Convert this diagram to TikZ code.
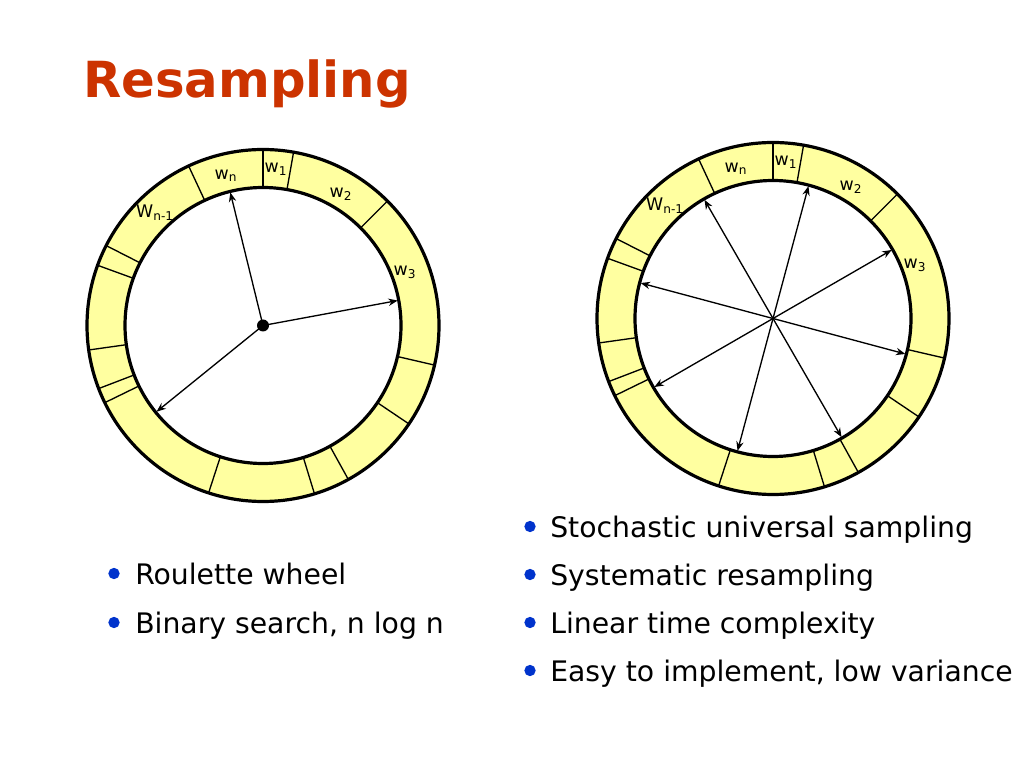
\documentclass[tikz,border=0pt]{standalone}
\usepackage{fontspec}
\setmainfont{DejaVu Sans}
\usetikzlibrary{arrows.meta}
\definecolor{titlecolor}{RGB}{204, 51, 0}
\definecolor{ringcolor}{RGB}{255, 255, 160}
\definecolor{bulletcolor}{RGB}{0, 51, 204}

\begin{document}
\begin{tikzpicture}[x=0.75pt, y=0.75pt,
    rim/.style={line width=2.4pt},
    divider/.style={line width=1pt},
    pointer/.style={line width=1pt, -{Stealth[length=7pt, width=5.5pt]}},
    twopointer/.style={line width=1pt, {Stealth[length=7pt, width=5.5pt]}-{Stealth[length=7pt, width=5.5pt]}},
    wlabel/.style={font=\fontsize{13}{15}\selectfont, inner sep=0pt},
    bullet/.style={circle, fill=bulletcolor, minimum size=8.5pt, inner sep=0pt},
    item/.style={anchor=base west, font=\fontsize{21.2}{25}\selectfont, inner sep=0pt}]
    \useasboundingbox (0,0) rectangle (1024,768);

    % Title
    \node[anchor=base west, inner sep=0pt, text=titlecolor, font=\fontsize{37.3}{44}\selectfont\bfseries] (title) at (83,670) {Resampling};

    % Left wheel
    \begin{scope}[shift={(263,442.5)}]
        \fill[ringcolor, even odd rule] (0,0) circle (176) (0,0) circle (138);
        \foreach \a in {90,80,45,-13,-34,-61,-73,-108,-154,-159,-172,160,153,115}
            \draw[divider] (\a:138) -- (\a:176);
        \draw[rim] (0,0) circle (176);
        \draw[rim] (0,0) circle (138);
        \node[wlabel] (lwn) at (-37,150) {w\textsubscript{n}};
        \node[wlabel] (lw1) at (13,156) {w\textsubscript{1}};
        \node[wlabel] (lw2) at (78,131) {w\textsubscript{2}};
        \node[wlabel] (lw3) at (142,53) {w\textsubscript{3}};
        \node[wlabel] (lwm) at (-108,113) {W\textsubscript{n-1}};
        % spin pointers
        \node[circle, fill, minimum size=9pt, inner sep=0pt] (hub) at (0,0) {};
        \coordinate (la1) at (10.5:137);
        \coordinate (la2) at (103.8:137);
        \coordinate (la3) at (219:137);
        \draw[pointer] (hub.center) -- (la1);
        \draw[pointer] (hub.center) -- (la2);
        \draw[pointer] (hub.center) -- (la3);
    \end{scope}

    % Right wheel
    \begin{scope}[shift={(773,449.5)}]
        \fill[ringcolor, even odd rule] (0,0) circle (176) (0,0) circle (138);
        \foreach \a in {90,80,45,-13,-34,-61,-73,-108,-154,-159,-172,160,153,115}
            \draw[divider] (\a:138) -- (\a:176);
        \draw[rim] (0,0) circle (176);
        \draw[rim] (0,0) circle (138);
        \node[wlabel] (rwn) at (-37,150) {w\textsubscript{n}};
        \node[wlabel] (rw1) at (13,156) {w\textsubscript{1}};
        \node[wlabel] (rw2) at (78,131) {w\textsubscript{2}};
        \node[wlabel] (rw3) at (142,53) {w\textsubscript{3}};
        \node[wlabel] (rwm) at (-108,113) {W\textsubscript{n-1}};
        % evenly spaced pointers
        \foreach \i/\a in {1/75,2/30,3/-15,4/-60,5/-105,6/-150,7/165,8/120}
            \coordinate (ra\i) at (\a:137);
        \draw[twopointer] (ra1) -- (ra5);
        \draw[twopointer] (ra2) -- (ra6);
        \draw[twopointer] (ra3) -- (ra7);
        \draw[twopointer] (ra4) -- (ra8);
    \end{scope}

    % Left list
    \node[bullet] (lb1) at (114,194.5) {};
    \node[item] (li1) at (135,184) {Roulette wheel};
    \node[bullet] (lb2) at (114,145.5) {};
    \node[item] (li2) at (135,135) {Binary search, n log n};

    % Right list
    \node[bullet] (rb1) at (530,241.5) {};
    \node[item] (ri1) at (550,231) {Stochastic universal sampling};
    \node[bullet] (rb2) at (530,193.5) {};
    \node[item] (ri2) at (550,183) {Systematic resampling};
    \node[bullet] (rb3) at (530,145.5) {};
    \node[item] (ri3) at (550,135) {Linear time complexity};
    \node[bullet] (rb4) at (530,97.5) {};
    \node[item] (ri4) at (550,87) {Easy to implement, low variance};
\end{tikzpicture}
\end{document}
